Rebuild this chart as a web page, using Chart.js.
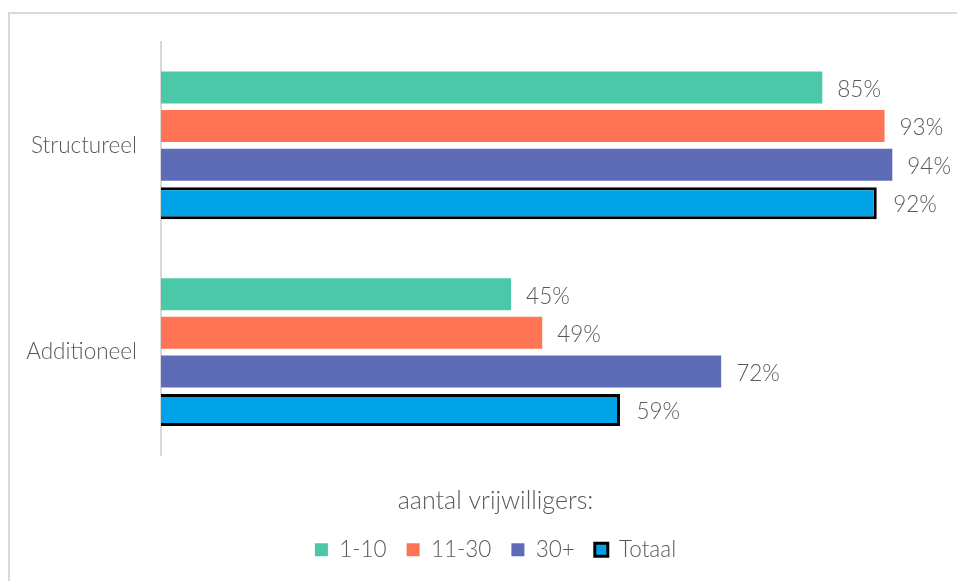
<!DOCTYPE html>
<html>
<head>
<meta charset="utf-8">
<script src="https://cdn.jsdelivr.net/npm/chart.js@4"></script>
<style>
  html, body { margin: 0; padding: 0; background: #fff; overflow: hidden; }
  #wrap { position: relative; width: 957px; height: 581px; }
  #frame { position: absolute; left: 8px; top: 12px; width: 1000px; height: 700px;
           border: 2px solid #d9d9d9; box-sizing: border-box; }
  #chart { position: absolute; left: 0; top: 0; }
</style>
</head>
<body>
<div id="wrap">
  <div id="frame"></div>
  <canvas id="chart" width="957" height="581"></canvas>
</div>
<script>
// categorieën en reeksen
const categorieen = ['Structureel', 'Additioneel'];
const reeksNamen = ['1-10', '11-30', '30+', 'Totaal'];
const waarden_1_10 = [85, 45];
const waarden_11_30 = [93, 49];
const waarden_30plus = [94, 72];
const waarden_totaal = [92, 59];
const legendaTitel = 'aantal vrijwilligers:';

const kleuren = ['#4bc8a8', '#ff7454', '#5e6bb7', '#00a2e8'];
const tekstKleur = '#595959';
const lettertype = "'Lato', 'Open Sans', sans-serif";

// labels achter de balken tekenen
const balkLabels = {
  id: 'balkLabels',
  afterDatasetsDraw(chart) {
    const ctx = chart.ctx;
    ctx.save();
    ctx.font = '300 22.5px ' + lettertype;
    ctx.fillStyle = tekstKleur;
    ctx.textBaseline = 'middle';
    ctx.textAlign = 'left';
    chart.data.datasets.forEach((ds, i) => {
      const meta = chart.getDatasetMeta(i);
      meta.data.forEach((bar, j) => {
        const extra = ds.borderWidth ? ds.borderWidth / 2 : 0;
        ctx.fillText(ds.data[j] + '%', bar.x + extra + 15, bar.y + 2);
      });
    });
    ctx.restore();
  }
};

// legenda iets naar rechts schuiven (zoals in het origineel)
const legendaVerschuiving = {
  id: 'legendaVerschuiving',
  afterLayout(chart) {
    if (chart.legend) {
      chart.legend.left += 26;
      chart.legend.right += 26;
    }
  }
};

const ctx = document.getElementById('chart');
new Chart(ctx, {
  type: 'bar',
  data: {
    labels: categorieen,
    datasets: [
      { label: reeksNamen[0], data: waarden_1_10, backgroundColor: kleuren[0], borderWidth: 0 },
      { label: reeksNamen[1], data: waarden_11_30, backgroundColor: kleuren[1], borderWidth: 0 },
      { label: reeksNamen[2], data: waarden_30plus, backgroundColor: kleuren[2], borderWidth: 0 },
      { label: reeksNamen[3], data: waarden_totaal, backgroundColor: kleuren[3], borderColor: '#000', borderWidth: 3 }
    ]
  },
  options: {
    indexAxis: 'y',
    responsive: false,
    animation: false,
    layout: { padding: { top: 42, right: 18, left: 0, bottom: 10 } },
    datasets: {
      bar: { categoryPercentage: 0.746, barPercentage: 0.83 }
    },
    scales: {
      x: { display: false, min: 0, max: 100 },
      y: {
        grid: { display: false, drawTicks: false },
        border: { display: true, color: '#d9d9d9', width: 2 },
        ticks: {
          color: tekstKleur,
          padding: 24,
          font: { family: lettertype, size: 22.5, weight: '300' }
        },
        afterFit(scale) { scale.width = 161; }
      }
    },
    plugins: {
      tooltip: { enabled: false },
      legend: {
        position: 'bottom',
        title: {
          display: true,
          text: legendaTitel,
          color: tekstKleur,
          padding: { top: 33, bottom: 0 },
          font: { family: lettertype, size: 25, weight: '300' }
        },
        labels: {
          color: tekstKleur,
          boxWidth: 13,
          boxHeight: 13,
          padding: 20,
          font: { family: lettertype, size: 22.5, weight: '300' }
        }
      }
    }
  },
  plugins: [balkLabels, legendaVerschuiving]
});
</script>
</body>
</html>
